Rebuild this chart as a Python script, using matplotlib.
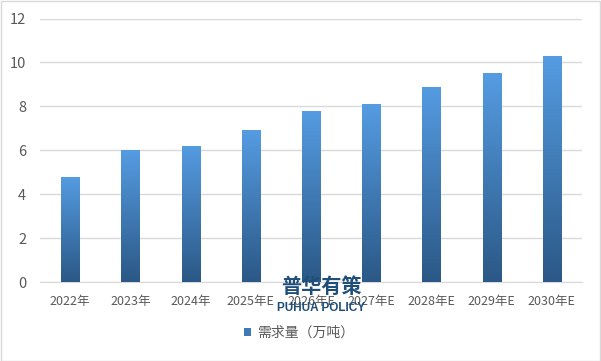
import matplotlib.pyplot as plt
import numpy as np
from matplotlib.colors import LinearSegmentedColormap
from matplotlib.patches import Rectangle

plt.rcParams['font.family'] = ['Noto Sans CJK SC', 'DejaVu Sans']

years = ['2022年', '2023年', '2024年', '2025年E', '2026年E',
         '2027年E', '2028年E', '2029年E', '2030年E']
demand = [4.8, 6.0, 6.2, 6.9, 7.8, 8.1, 8.9, 9.5, 10.3]

fig = plt.figure(figsize=(6.01, 3.61), dpi=100)
ax = fig.add_axes([40 / 601, 1 - 282 / 361, 542 / 601, 263.5 / 361])

x = np.arange(len(years))
bars = ax.bar(x, demand, width=0.3, color='none', zorder=3)

# vertical gradient inside each bar, dark at the bottom
cmap = LinearSegmentedColormap.from_list('blu', ['#2b5886', '#559ce2'])
grad = np.linspace(0, 1, 256).reshape(-1, 1)
for b in bars:
    bx, by = b.get_x(), b.get_y()
    w, h = b.get_width(), b.get_height()
    im = ax.imshow(grad, cmap=cmap, origin='lower', aspect='auto',
                   extent=[bx, bx + w, by, by + h], zorder=3)
    im.set_clip_path(b)

ax.set_xlim(-0.5, len(years) - 0.5)
ax.set_ylim(0, 12)
ax.set_yticks(range(0, 13, 2))
ax.set_xticks(x)
ax.set_xticklabels(years)
ax.tick_params(axis='x', length=0, labelsize=9, colors='#595959', pad=9)
ax.tick_params(axis='y', length=0, labelsize=10.5, colors='#595959', pad=10)
ax.yaxis.grid(True, color='#d9d9d9', linewidth=1)
ax.set_axisbelow(True)
for s in ['top', 'right', 'left']:
    ax.spines[s].set_visible(False)
ax.spines['bottom'].set_color('#d9d9d9')

# legend
h = Rectangle((0, 0), 1, 1, facecolor='#3f7ab8')
fig.legend([h], ['需求量（万吨）'], loc='center', bbox_to_anchor=(299 / 601, 1 - 333 / 361),
           frameon=False, fontsize=10, handlelength=0.55, handleheight=0.55,
           handletextpad=0.4, labelcolor='#595959')

# watermark
fig.text(321 / 601, 1 - 286 / 361, '普华有策', fontsize=14.5, fontweight='heavy',
         color='#1f4e79', ha='center', va='center', zorder=10)
fig.text(321 / 601, 1 - 308 / 361, 'PUHUA POLICY', fontsize=8.5, fontweight='bold',
         color='#1f4e79', ha='center', va='center', zorder=10,
         family=['Liberation Sans Narrow', 'Liberation Sans'])

# outer border
fig.patches.append(Rectangle((0.5 / 601, 0.5 / 361), 599.5 / 601, 359.5 / 361,
                             transform=fig.transFigure, fill=False,
                             edgecolor='#d9d9d9', linewidth=1))

fig.savefig('out.png', dpi=100)
